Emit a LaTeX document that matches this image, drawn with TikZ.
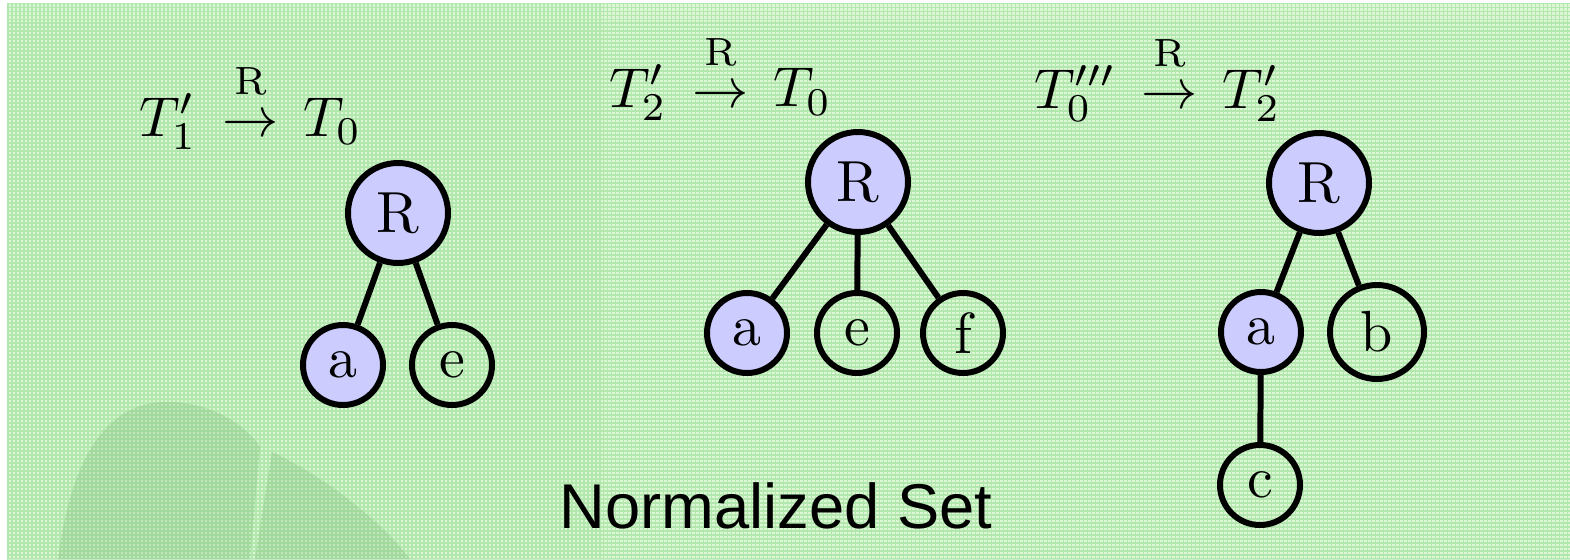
\documentclass[tikz,border=0pt]{standalone}
\usepackage{fontspec}
\newfontfamily\capfont{Liberation Sans}
\newfontfamily\vertfont{lmroman10-regular.otf}
\definecolor{bggreen}{RGB}{220,246,214}
\definecolor{gridgreen}{RGB}{120,212,118}
\definecolor{markgreen}{RGB}{90,160,90}
\newcommand\rarrow{\,\stackrel{\raisebox{.17em}{$\scriptstyle\mathrm{R}$}}{\rightarrow}\,}

\begin{document}
\begin{tikzpicture}[
    vert/.style={draw, circle, line width=1.7pt, inner sep=0pt,
      minimum size=0.8cm, font=\vertfont\fontsize{16.5}{20}\selectfont},
    root/.style={vert, fill=blue!20, minimum size=1cm},
    hit/.style={fill=blue!20},
    edge/.style={line width=1.7pt},
    lab/.style={anchor=base west, inner sep=0pt, scale=1.6, transform shape}]
                \useasboundingbox (0,0) rectangle (15.70,5.59);
                % background
                \fill [bggreen] (0.07,0) rectangle (15.70,5.56);
                \draw [gridgreen, line width=0.012cm, opacity=0.42, step=0.04] (0.07,0) grid (15.70,5.56);
                \fill [markgreen, opacity=0.18] (0.58,0) .. controls (0.70,0.9) and (1.0,1.57) .. (1.67,1.57)
                      .. controls (2.10,1.57) and (2.45,1.35) .. (2.60,1.12) -- (2.50,0) -- cycle;
                \fill [markgreen, opacity=0.18] (2.72,1.07) .. controls (3.2,0.85) and (3.8,0.4) .. (4.10,0) -- (2.55,0) -- cycle;
                % first tree
                \node[lab] (t1) at (1.38,4.23) {$T'_1 \rarrow T_0$};
                \node[root] (r1) at (3.98,3.46) {R};
                \node[vert,hit] (a1) at (3.43,1.94) {a};
                \node[vert] (e1) at (4.52,1.94) {e};
                \draw[edge] (r1)--(a1);
                \draw[edge] (r1)--(e1);
                % second tree
                \node[lab] (t2) at (6.08,4.52) {$T'_2 \rarrow T_0$};
                \node[root] (r2) at (8.58,3.77) {R};
                \node[vert,hit] (a2) at (7.47,2.26) {a};
                \node[vert] (e2) at (8.57,2.26) {e};
                \node[vert] (f2) at (9.63,2.26) {f};
                \draw[edge] (r2)--(a2);
                \draw[edge] (r2)--(e2);
                \draw[edge] (r2)--(f2);
                % third tree
                \node[lab] (t3) at (10.33,4.51) {$T'''_0 \rarrow T'_2$};
                \node[root] (r3) at (13.19,3.76) {R};
                \node[vert,hit] (a3) at (12.61,2.27) {a};
                \node[vert, minimum size=0.94cm] (b3) at (13.77,2.27) {b};
                \node[vert] (c3) at (12.60,0.74) {c};
                \draw[edge] (r3)--(a3);
                \draw[edge] (r3)--(b3);
                \draw[edge] (a3)--(c3);
                \node[anchor=base, inner sep=0pt, font=\capfont\fontsize{18}{22}\selectfont] (cap) at (7.76,0.31) {Normalized Set};
                \end{tikzpicture}
\end{document}
